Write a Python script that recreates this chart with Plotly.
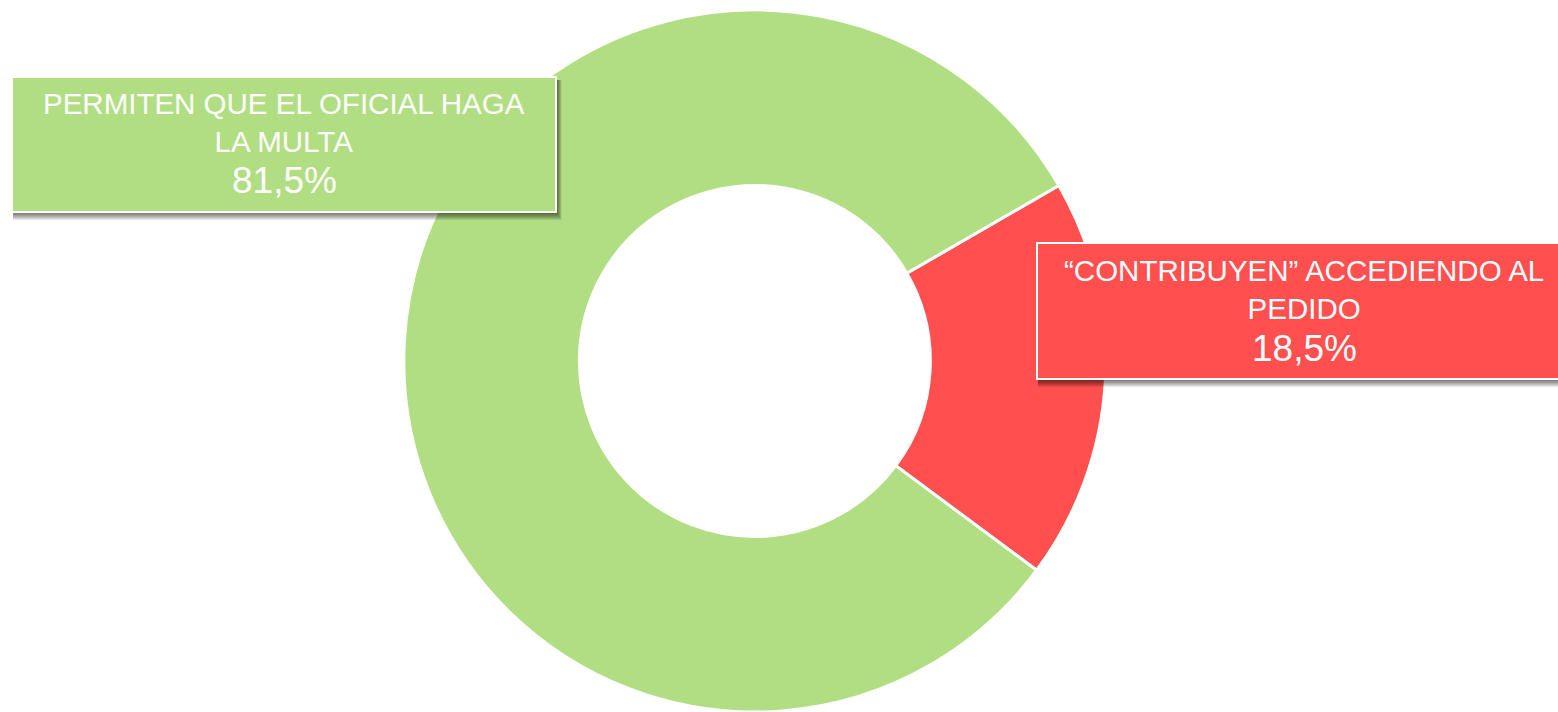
import plotly.graph_objects as go

labels = ["“CONTRIBUYEN” ACCEDIENDO AL PEDIDO", "PERMITEN QUE EL OFICIAL HAGA LA MULTA"]
values = [18.5, 81.5]
colors = ["#FF4F4F", "#B1DE82"]
box_lines = [["“CONTRIBUYEN” ACCEDIENDO AL", "PEDIDO"], ["PERMITEN QUE EL OFICIAL HAGA", "LA MULTA"]]
pct_text = ["18,5%", "81,5%"]

W, H = 1558, 712

fig = go.Figure(go.Pie(
    labels=labels, values=values, sort=False, direction="clockwise", rotation=60,
    hole=0.5, marker=dict(colors=colors, line=dict(color="white", width=3)),
    textinfo="none", hoverinfo="label+percent", showlegend=False,
    domain=dict(x=[0.2, 0.769], y=[0.0, 0.986]),
))

# boxes in page pixel coordinates: (x0, y0, x1, y1) from top-left
boxes = [(1037, 243, 1570, 379), (12, 77, 556, 212)]
text_cx = [1304, 284]
label_cy = [289, 123]
pct_cy = [348, 180]

def px(x):
    return x / W

def py(y):
    return 1 - y / H

shapes = []
annotations = []
for i, (x0, y0, x1, y1) in enumerate(boxes):
    for k in range(1, 9):
        shapes.append(dict(type="rect", xref="paper", yref="paper",
                           x0=px(x0 + 1), x1=px(x1 + 0.7 * k), y0=py(y1 + k), y1=py(y0 + 3),
                           fillcolor="black", opacity=0.09, line=dict(width=0)))
    shapes.append(dict(type="rect", xref="paper", yref="paper",
                       x0=px(x0), x1=px(x1), y0=py(y1), y1=py(y0),
                       fillcolor=colors[i], line=dict(color="white", width=2)))
    annotations.append(dict(xref="paper", yref="paper", x=px(text_cx[i]), y=py(label_cy[i]),
                            text="<br>".join(box_lines[i]), showarrow=False,
                            xanchor="center", yanchor="middle", align="center",
                            font=dict(family="Liberation Sans, Arial", size=29.5, color="white")))
    annotations.append(dict(xref="paper", yref="paper", x=px(text_cx[i]), y=py(pct_cy[i]),
                            text=pct_text[i], showarrow=False,
                            xanchor="center", yanchor="middle",
                            font=dict(family="Liberation Sans, Arial", size=37, color="white")))

fig.update_layout(
    width=W, height=H, margin=dict(l=0, r=0, t=0, b=0),
    paper_bgcolor="white", plot_bgcolor="white",
    shapes=shapes, annotations=annotations,
)

fig.write_html("out.html", config={"displayModeBar": False},
               post_script="document.body.style.margin='0';document.body.style.overflow='hidden';")
